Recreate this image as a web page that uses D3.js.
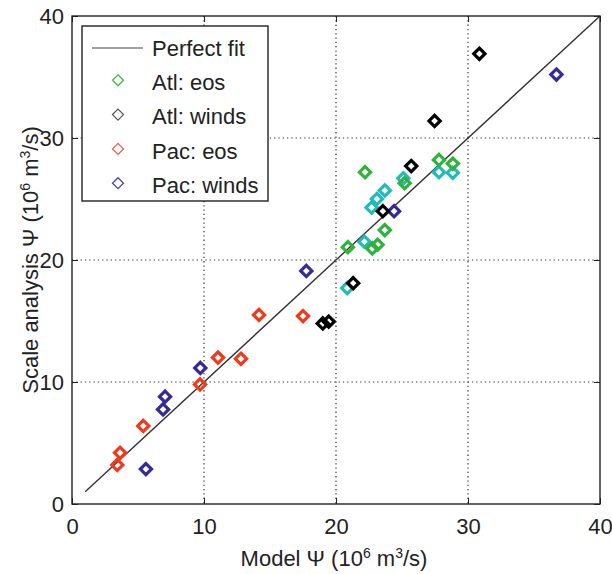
<!DOCTYPE html>
<html>
<head>
<meta charset="utf-8">
<script src="https://cdn.jsdelivr.net/npm/d3@7"></script>
<style>
  html, body { margin: 0; padding: 0; background: #fff; }
  svg { display: block; font-family: "Liberation Sans", Arial, Helvetica, sans-serif; }
</style>
</head>
<body>
<svg id="chart" width="612" height="574"></svg>
<script>
// ---- Data (model Ψ, scale analysis Ψ) in 10^6 m^3/s ----
const atlEosX   = [20.9, 22.2, 22.75, 23.15, 23.7, 25.2, 27.8, 28.85];
const atlEosY   = [21.05, 27.2, 20.95, 21.25, 22.45, 26.3, 28.2, 27.9];
const atlWindsX = [19.0, 19.45, 21.3, 23.55, 25.7, 27.47, 30.86];
const atlWindsY = [14.8, 14.95, 18.1, 24.0, 27.7, 31.4, 36.9];
const pacEosX   = [3.43, 3.64, 5.4, 9.7, 11.06, 12.8, 14.17, 17.5];
const pacEosY   = [3.2, 4.2, 6.4, 9.8, 12.0, 11.9, 15.5, 15.4];
const pacWindsX = [5.6, 6.9, 7.05, 9.72, 17.75, 24.4, 36.7];
const pacWindsY = [2.86, 7.75, 8.8, 11.15, 19.1, 24.0, 35.2];
const extraX    = [20.85, 22.15, 22.7, 23.1, 23.7, 25.1, 27.8, 28.85];
const extraY    = [17.7, 21.5, 24.3, 25.0, 25.7, 26.7, 27.2, 27.15];
const fitLine   = [1, 40];
const tickVals  = [0, 10, 20, 30, 40];
const gridVals  = [10, 20, 30];
const legendLabels = ["Perfect fit", "Atl: eos", "Atl: winds", "Pac: eos", "Pac: winds"];

const series = [
  { xs: extraX,    ys: extraY,    color: "#1fbcbc" },
  { xs: atlEosX,   ys: atlEosY,   color: "#2fb33a" },
  { xs: pacEosX,   ys: pacEosY,   color: "#f23a1a" },
  { xs: pacWindsX, ys: pacWindsY, color: "#352a9a" },
  { xs: atlWindsX, ys: atlWindsY, color: "#000000" }
];
const legendColors = [null, "#3cc03c", "#555555", "#f25a4a", "#4a44b0"];

const svg = d3.select("#chart");
const L = 72, R = 600, T = 16, B = 504;
const x = d3.scaleLinear().domain([0, 40]).range([L, R]);
const y = d3.scaleLinear().domain([0, 40]).range([B, T]);
const ink = "#222";
const fs = 22;

svg.append("rect").attr("x", L).attr("y", T).attr("width", R - L).attr("height", B - T).attr("fill", "#fff");

// grid
const g = svg.append("g");
g.selectAll(".gx").data(gridVals).join("line")
  .attr("x1", d => x(d)).attr("x2", d => x(d)).attr("y1", T).attr("y2", B)
  .attr("stroke", "#333").attr("stroke-width", 1.2).attr("stroke-dasharray", "1.3,3");
g.selectAll(".gy").data(gridVals).join("line")
  .attr("y1", d => y(d)).attr("y2", d => y(d)).attr("x1", L).attr("x2", R)
  .attr("stroke", "#333").attr("stroke-width", 1.2).attr("stroke-dasharray", "1.3,3");

// axes (inward ticks on all four sides)
const tl = 6;
svg.append("g").attr("transform", `translate(0,${B})`)
  .call(d3.axisBottom(x).tickValues(tickVals).tickSize(-tl).tickPadding(14))
  .call(a => { a.select(".domain").remove(); a.selectAll("line").attr("stroke", ink); a.selectAll("text").attr("font-size", fs).attr("fill", ink).attr("font-family", null); });
svg.append("g").attr("transform", `translate(${L},0)`)
  .call(d3.axisLeft(y).tickValues(tickVals).tickSize(-tl).tickPadding(8))
  .call(a => { a.select(".domain").remove(); a.selectAll("line").attr("stroke", ink); a.selectAll("text").attr("font-size", fs).attr("fill", ink).attr("font-family", null); });
svg.append("g").attr("transform", `translate(0,${T})`)
  .call(d3.axisTop(x).tickValues(tickVals).tickSize(-tl).tickFormat(""))
  .call(a => { a.select(".domain").remove(); a.selectAll("line").attr("stroke", ink); });
svg.append("g").attr("transform", `translate(${R},0)`)
  .call(d3.axisRight(y).tickValues(tickVals).tickSize(-tl).tickFormat(""))
  .call(a => { a.select(".domain").remove(); a.selectAll("line").attr("stroke", ink); });

// perfect fit line
svg.append("line")
  .attr("x1", x(fitLine[0])).attr("y1", y(fitLine[0]))
  .attr("x2", x(fitLine[1])).attr("y2", y(fitLine[1]))
  .attr("stroke", "#333").attr("stroke-width", 1.4);

// markers
const diamond = (s) => `M0,${-s}L${s},0L0,${s}L${-s},0Z`;
series.forEach(s => {
  svg.append("g").selectAll("path")
    .data(s.xs.map((v, i) => [v, s.ys[i]]))
    .join("path")
    .attr("d", diamond(5.6))
    .attr("transform", d => `translate(${x(d[0])},${y(d[1])})`)
    .attr("fill", "none")
    .attr("stroke", s.color)
    .attr("stroke-width", 3.2);
});

// box
svg.append("rect").attr("x", L).attr("y", T).attr("width", R - L).attr("height", B - T)
  .attr("fill", "none").attr("stroke", ink).attr("stroke-width", 1.4);

// legend
const lg = svg.append("g");
lg.append("rect").attr("x", 82).attr("y", 26).attr("width", 186).attr("height", 175)
  .attr("fill", "#fff").attr("stroke", ink).attr("stroke-width", 1.4);
const rowY = i => 48 + i * 34.3;
lg.append("line").attr("x1", 92).attr("x2", 143).attr("y1", rowY(0)).attr("y2", rowY(0))
  .attr("stroke", "#444").attr("stroke-width", 1.2);
legendLabels.forEach((lab, i) => {
  if (i > 0) {
    lg.append("path").attr("d", diamond(5.5))
      .attr("transform", `translate(118,${rowY(i) - 2})`)
      .attr("fill", "none").attr("stroke", legendColors[i]).attr("stroke-width", 1.3);
  }
  lg.append("text").attr("x", 152).attr("y", rowY(i)).attr("dy", "0.35em")
    .attr("font-size", fs).attr("fill", ink).text(lab);
});

// axis labels
const xl = svg.append("text").attr("x", (L + R) / 2 - 2).attr("y", 566)
  .attr("text-anchor", "middle").attr("font-size", fs).attr("fill", ink);
xl.append("tspan").text("Model Ψ (10");
xl.append("tspan").attr("font-size", 14).attr("baseline-shift", "super").text("6");
xl.append("tspan").text(" m");
xl.append("tspan").attr("font-size", 14).attr("baseline-shift", "super").text("3");
xl.append("tspan").text("/s)");

const yl = svg.append("text").attr("transform", "translate(38,260) rotate(-90)")
  .attr("text-anchor", "middle").attr("font-size", fs).attr("fill", ink);
yl.append("tspan").text("Scale analysis Ψ (10");
yl.append("tspan").attr("font-size", 14).attr("baseline-shift", "super").text("6");
yl.append("tspan").text(" m");
yl.append("tspan").attr("font-size", 14).attr("baseline-shift", "super").text("3");
yl.append("tspan").text("/s)");
</script>
</body>
</html>
